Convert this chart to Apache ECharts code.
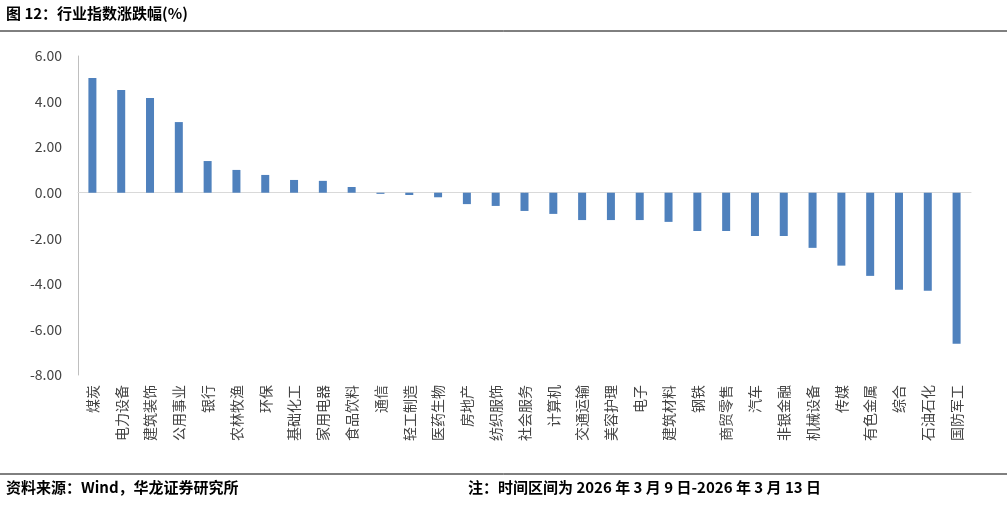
<!DOCTYPE html>
<html><head><meta charset="utf-8">
<script src="https://cdn.jsdelivr.net/npm/echarts@6/dist/echarts.min.js"></script>
<style>body{margin:0;background:#fff}#c{width:1007px;height:506px}</style>
</head><body><div id="c"></div>
<script>
const categories=['煤炭','电力设备','建筑装饰','公用事业','银行','农林牧渔','环保','基础化工','家用电器','食品饮料','通信','轻工制造','医药生物','房地产','纺织服饰','社会服务','计算机','交通运输','美容护理','电子','建筑材料','钢铁','商贸零售','汽车','非银金融','机械设备','传媒','有色金属','综合','石油石化','国防军工'];
const values=[5.03,4.51,4.16,3.1,1.39,1.0,0.78,0.56,0.52,0.25,-0.05,-0.1,-0.2,-0.5,-0.58,-0.8,-0.93,-1.2,-1.2,-1.2,-1.28,-1.68,-1.68,-1.9,-1.9,-2.42,-3.2,-3.65,-4.26,-4.3,-6.63];
const chart=echarts.init(document.getElementById('c'));
const F='"Noto Sans CJK SC","Noto Sans",sans-serif';
chart.setOption({
animation:false,
graphic:[
{type:'text',left:6,top:6,style:{text:'图 12：行业指数涨跌幅(%)',font:'bold 15px '+F,fill:'#000'}},
{type:'line',shape:{x1:0,y1:31,x2:1007,y2:31},style:{stroke:'#000',lineWidth:1}},
{type:'line',shape:{x1:0,y1:474,x2:1007,y2:474},style:{stroke:'#000',lineWidth:1}},
{type:'text',left:6,top:480,style:{text:'资料来源：Wind，华龙证券研究所',font:'bold 15px '+F,fill:'#000'}},
{type:'text',left:468,top:480,style:{text:'注：时间区间为 2026 年 3 月 9 日-2026 年 3 月 13 日',font:'bold 15px '+F,fill:'#000'}}
],
grid:{left:78,right:36,top:56,bottom:131},
xAxis:[
{type:'category',data:categories,axisLine:{onZero:true,lineStyle:{color:'#d9d9d9'}},axisTick:{show:false},axisLabel:{show:false}},
{type:'category',data:categories,position:'bottom',offset:0,axisLine:{show:false},axisTick:{show:false},
 axisLabel:{interval:0,rotate:90,margin:10,fontSize:14,color:'#444',fontFamily:F}}
],
yAxis:{type:'value',min:-8,max:6,interval:2,axisLine:{show:true,lineStyle:{color:'#bfbfbf'}},axisTick:{show:false},splitLine:{show:false},
 axisLabel:{formatter:v=>v.toFixed(2),fontSize:14,color:'#444',fontFamily:F,margin:16}},
series:[{type:'bar',data:values,barWidth:8,itemStyle:{color:'#4f81bd'}}]
});
</script></body></html>
